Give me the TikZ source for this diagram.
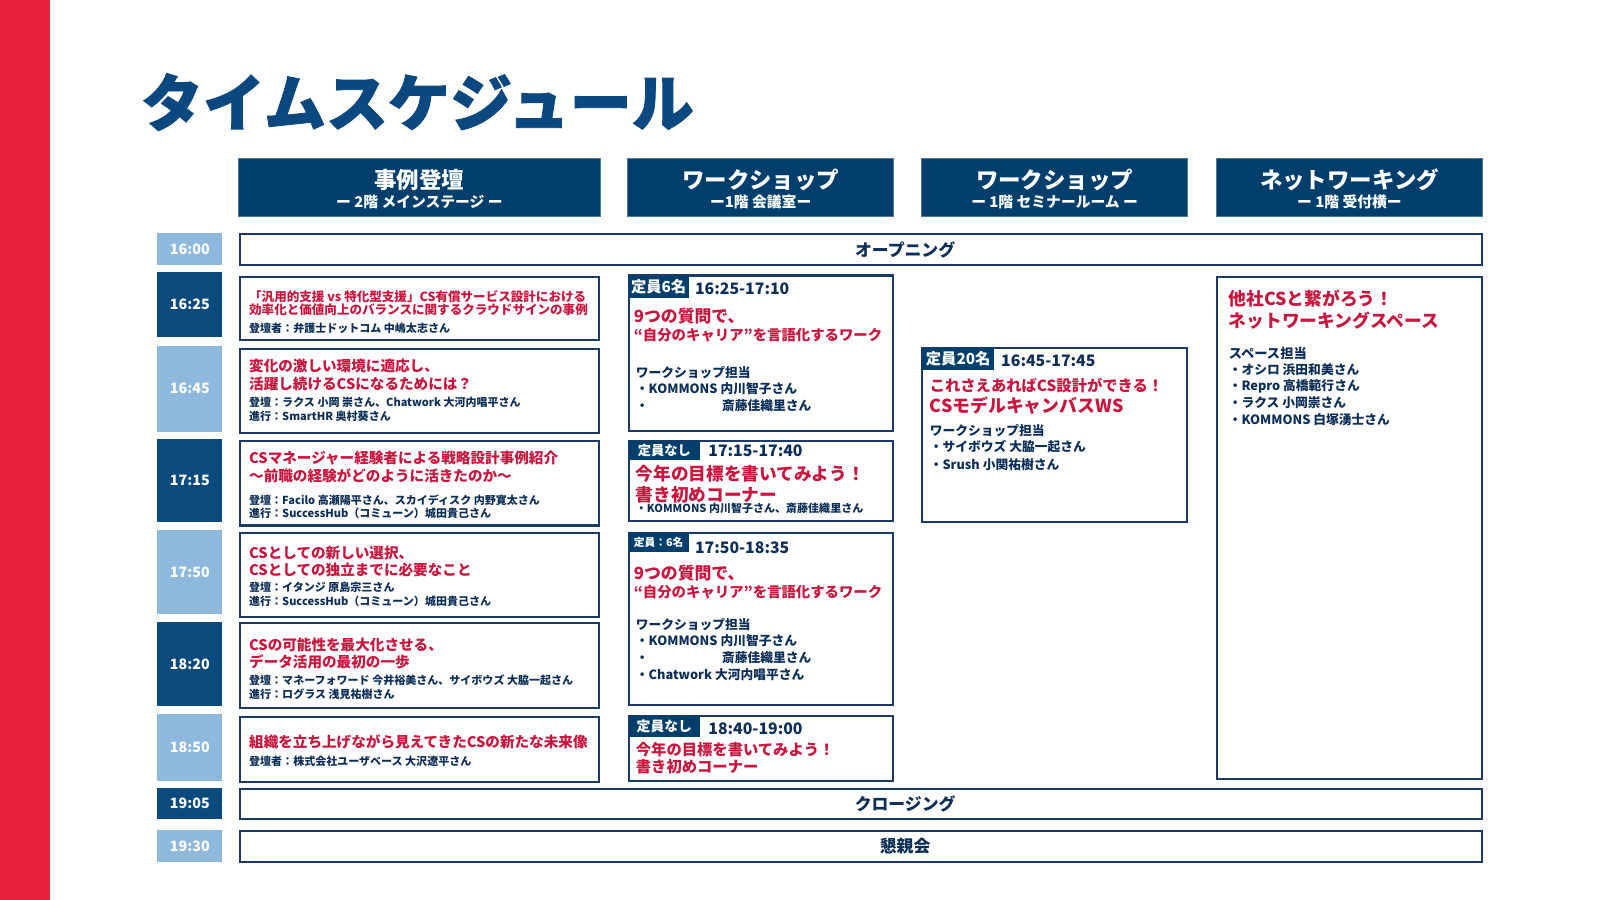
\documentclass[tikz,border=0pt]{standalone}
\usepackage{fontspec}
\setmainfont{Noto Sans CJK JP}
\newfontfamily\heavyfont{Noto Sans CJK JP}[BoldFeatures={FakeBold=1.3}]
\usetikzlibrary{fit}
\definecolor{navy}{HTML}{003E6B}
\definecolor{tdark}{HTML}{0B4A7D}
\definecolor{tlight}{HTML}{8EB9DC}
\definecolor{redbar}{HTML}{E8223C}
\definecolor{redtxt}{HTML}{C9163E}
\definecolor{bordercol}{HTML}{1C3A66}
\definecolor{txt}{HTML}{0D2F57}
\definecolor{ttl}{HTML}{0C4880}
\newcommand\fsz[1]{\fontsize{#1}{#1}\selectfont}
\tikzset{
  cell/.style={draw=bordercol, line width=2pt, fill=white, inner sep=0pt},
  hdr/.style={fill=navy, draw=navy!70, line width=0.8pt, inner sep=0pt},
  tdk/.style={fill=tdark, inner sep=0pt},
  tlt/.style={fill=tlight, inner sep=0pt},
  tagbox/.style={fill=navy, inner sep=0pt},
  ttext/.style={text=white, font=\fsz{14}\bfseries, inner sep=0pt},
  htitle/.style={text=white, font=\fsz{22}\bfseries, inner sep=0pt},
  hsub/.style={text=white, font=\fsz{14.5}\bfseries, inner sep=0pt},
  lt/.style={anchor=west, inner sep=0pt},
  redt/.style={lt, text=redtxt, font=\fsz{#1}\bfseries},
  spk/.style={lt, text=txt, font=\fsz{#1}\bfseries},
  tagt/.style={text=white, font=\fsz{#1}\bfseries, inner sep=0pt},
  timet/.style={lt, text=txt, font=\fsz{15.5}\bfseries},
  rowt/.style={text=txt, font=\fsz{16.5}\bfseries, inner sep=0pt}
}
\begin{document}
\begin{tikzpicture}[x=1pt,y=-1pt]
\fill[white] (0,0) rectangle (1568,882);
\fill[redbar] (0,0) rectangle (49,882);
\node[lt, text=ttl, font=\fsz{60.8}\heavyfont\bfseries] (title) at (138,100) {タイムスケジュール};

% headers
\node[hdr, fit={(234,155) (588,212)}] (h1) {};
\node[hdr, fit={(615,155) (876,212)}] (h2) {};
\node[hdr, fit={(903,155) (1164,212)}] (h3) {};
\node[hdr, fit={(1192,155) (1453,212)}] (h4) {};
\node[htitle] (h1t) at (411,176) {事例登壇};
\node[hsub] (h1s) at (411,198) {ー 2階 メインステージ ー};
\node[htitle] (h2t) at (745.5,176) {ワークショップ};
\node[hsub] (h2s) at (745.5,198) {ー1階 会議室ー};
\node[htitle] (h3t) at (1033.5,176) {ワークショップ};
\node[hsub] (h3s) at (1033.5,198) {ー 1階 セミナールーム ー};
\node[htitle] (h4t) at (1322.5,176) {ネットワーキング};
\node[hsub] (h4s) at (1322.5,198) {ー 1階 受付横ー};

% time labels
\node[tlt, fit={(154,228) (218,260)}] (t1) {};
\node[ttext] at (t1) {16:00};
\node[tdk, fit={(154,267) (218,330)}] (t2) {};
\node[ttext] at (t2) {16:25};
\node[tlt, fit={(154,339) (218,423)}] (t3) {};
\node[ttext] at (t3) {16:45};
\node[tdk, fit={(154,430) (218,512)}] (t4) {};
\node[ttext] at (t4) {17:15};
\node[tlt, fit={(154,519) (218,602)}] (t5) {};
\node[ttext] at (t5) {17:50};
\node[tdk, fit={(154,610) (218,692)}] (t6) {};
\node[ttext] at (t6) {18:20};
\node[tlt, fit={(154,700) (218,765)}] (t7) {};
\node[ttext] at (t7) {18:50};
\node[tdk, fit={(154,772) (218,803)}] (t8) {};
\node[ttext] at (t8) {19:05};
\node[tlt, fit={(154,813) (218,845)}] (t9) {};
\node[ttext] at (t9) {19:30};

% full rows
\node[cell, fit={(235,229) (1452,260)}] (open) {};
\node[rowt] (opent) at (887,244.5) {オープニング};
\node[cell, fit={(235,773) (1452,803)}] (close) {};
\node[rowt] (closet) at (887,788) {クロージング};
\node[cell, fit={(235,814) (1452,845)}] (party) {};
\node[rowt] (partyt) at (887,829.5) {懇親会};

% column 1
\node[cell, fit={(235,271) (587,333)}] (c1) {};
\node[redt=12.3] (c1a) at (244,291) {「汎用的支援 vs 特化型支援」CS有償サービス設計における};
\node[redt=12.3] (c1b) at (244,304) {効率化と価値向上のバランスに関するクラウドサインの事例};
\node[spk=10.8] (c1c) at (244,322) {登壇者：弁護士ドットコム\ 中嶋太志さん};

\node[cell, fit={(235,342) (587,424)}] (c2) {};
\node[redt=14.3] (c2a) at (244,359) {変化の激しい環境に適応し、};
\node[redt=14.3] (c2b) at (244,376) {活躍し続けるCSになるためには？};
\node[spk=10.8] (c2c) at (244,394) {登壇：ラクス 小岡 崇さん、Chatwork 大河内唱平さん};
\node[spk=10.8] (c2d) at (244,408) {進行：SmartHR 奥村葵さん};

\node[cell, fit={(235,432) (587,515)}] (c3) {};
\node[redt=14.3] (c3a) at (244,449) {CSマネージャー経験者による戦略設計事例紹介};
\node[redt=14.3] (c3b) at (244,466) {〜前職の経験がどのように活きたのか〜};
\node[spk=10.8] (c3c) at (244,490) {登壇：Facilo 高瀬陽平さん、スカイディスク 内野寛太さん};
\node[spk=10.8] (c3d) at (244,503) {進行：SuccessHub（コミューン）城田貴己さん};

\node[cell, fit={(235,522) (587,605)}] (c4) {};
\node[redt=14.3] (c4a) at (244,542) {CSとしての新しい選択、};
\node[redt=14.3] (c4b) at (244,559) {CSとしての独立までに必要なこと};
\node[spk=10.8] (c4c) at (244,576) {登壇：イタンジ 原島宗三さん};
\node[spk=10.8] (c4d) at (244,589) {進行：SuccessHub（コミューン）城田貴己さん};

\node[cell, fit={(235,611) (587,694)}] (c5) {};
\node[redt=14.3] (c5a) at (244,632) {CSの可能性を最大化させる、};
\node[redt=14.3] (c5b) at (244,649) {データ活用の最初の一歩};
\node[spk=10.8] (c5c) at (244,667) {登壇：マネーフォワード 今井裕美さん、サイボウズ 大脇一起さん};
\node[spk=10.8] (c5d) at (244,680) {進行：ログラス 浅見祐樹さん};

\node[cell, fit={(235,703) (587,766)}] (c6) {};
\node[redt=14.3] (c6a) at (244,727) {組織を立ち上げながら見えてきたCSの新たな未来像};
\node[spk=10.8] (c6b) at (244,746) {登壇者：株式会社ユーザベース 大沢遼平さん};

% column 2
\node[cell, fit={(616,270) (875,422)}] (w1) {};
\node[tagbox, fit={(616,270) (675,292)}] (w1tag) {};
\node[tagt=15] at (w1tag) {定員6名};
\node[timet] (w1time) at (681,283) {16:25-17:10};
\node[redt=16.5] (w1a) at (621,310) {9つの質問で、};
\node[redt=14.1] (w1b) at (621,328) {“自分のキャリア”を言語化するワーク};
\node[spk=12.5] (w1c) at (623,365) {ワークショップ担当};
\node[spk=12.5] (w1d) at (623,381) {・KOMMONS 内川智子さん};
\node[spk=12.5] (w1e) at (623,398) {・\hspace{72pt}斎藤佳織里さん};

\node[cell, fit={(616,432) (875,511)}] (w2) {};
\node[tagbox, fit={(616,432) (686,451)}] (w2tag) {};
\node[tagt=13] at (w2tag) {定員なし};
\node[timet] (w2time) at (694,442) {17:15-17:40};
\node[redt=17.3] (w2a) at (623,464) {今年の目標を書いてみよう！};
\node[redt=17.3] (w2b) at (623,485) {書き初めコーナー};
\node[spk=10.8] (w2c) at (623,498) {・KOMMONS 内川智子さん、斎藤佳織里さん};

\node[cell, fit={(616,522) (875,691)}] (w3) {};
\node[tagbox, fit={(616,522) (675,541)}] (w3tag) {};
\node[tagt=10.5] at (w3tag) {定員：6名};
\node[timet] (w3time) at (681,537) {17:50-18:35};
\node[redt=16.5] (w3a) at (621,562) {9つの質問で、};
\node[redt=14.1] (w3b) at (621,580) {“自分のキャリア”を言語化するワーク};
\node[spk=12.5] (w3c) at (623,612) {ワークショップ担当};
\node[spk=12.5] (w3d) at (623,628) {・KOMMONS 内川智子さん};
\node[spk=12.5] (w3e) at (623,645) {・\hspace{72pt}斎藤佳織里さん};
\node[spk=12.5] (w3f) at (623,661) {・Chatwork 大河内唱平さん};

\node[cell, fit={(616,702) (875,765)}] (w4) {};
\node[tagbox, fit={(616,702) (686,722)}] (w4tag) {};
\node[tagt=13.5] at (w4tag) {定員なし};
\node[timet] (w4time) at (694,714) {18:40-19:00};
\node[redt=15] (w4a) at (623,735) {今年の目標を書いてみよう！};
\node[redt=15] (w4b) at (623,751) {書き初めコーナー};

% column 3
\node[cell, fit={(904,341) (1163,512)}] (s1) {};
\node[tagbox, fit={(904,341) (974,363)}] (s1tag) {};
\node[tagt=15] at (s1tag) {定員20名};
\node[timet] (s1time) at (981,354) {16:45-17:45};
\node[redt=15] (s1a) at (911,378) {これさえあればCS設計ができる！};
\node[redt=17.5] (s1b) at (911,398) {CSモデルキャンバスWS};
\node[spk=12.5] (s1c) at (911,422) {ワークショップ担当};
\node[spk=12.5] (s1d) at (911,438) {・サイボウズ 大脇一起さん};
\node[spk=12.5] (s1e) at (911,455) {・Srush 小関祐樹さん};

% column 4
\node[cell, fit={(1193,271) (1452,763)}] (n1) {};
\node[redt=17.4] (n1a) at (1204,293) {他社CSと繋がろう！};
\node[redt=17.4] (n1b) at (1204,314) {ネットワーキングスペース};
\node[spk=13] (n1c) at (1204,346) {スペース担当};
\node[spk=12.5] (n1d) at (1204,362) {・オシロ 浜田和美さん};
\node[spk=12.5] (n1e) at (1204,379) {・Repro 高橋範行さん};
\node[spk=12.5] (n1f) at (1204,395) {・ラクス 小岡崇さん};
\node[spk=12.5] (n1g) at (1204,411) {・KOMMONS 白塚湧士さん};

\pgfresetboundingbox
\useasboundingbox (0,0) rectangle (1568,882);
\end{tikzpicture}
\end{document}
